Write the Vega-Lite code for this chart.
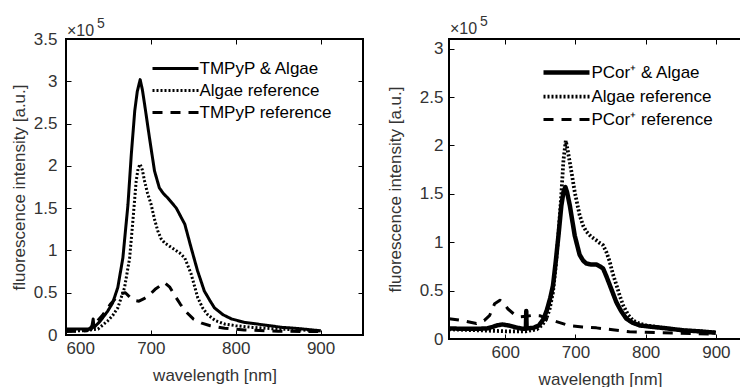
{
  "$schema": "https://vega.github.io/schema/vega-lite/v6.json",
  "padding": {"left": 9, "top": 14, "right": 0, "bottom": 0},
  "bounds": "flush",
  "spacing": 86,
  "background": "white",
  "resolve": {"scale": {"strokeDash": "independent", "strokeWidth": "independent"}, "legend": {"strokeDash": "independent", "strokeWidth": "independent"}},
  "datasets": {
    "left": [
      {"s": "TMPyP & Algae", "x": 600, "y": 0.07}, {"s": "TMPyP & Algae", "x": 615, "y": 0.07}, {"s": "TMPyP & Algae", "x": 630, "y": 0.07}, {"s": "TMPyP & Algae", "x": 632, "y": 0.19}, {"s": "TMPyP & Algae", "x": 633, "y": 0.09}, {"s": "TMPyP & Algae", "x": 640, "y": 0.16}, {"s": "TMPyP & Algae", "x": 649, "y": 0.28}, {"s": "TMPyP & Algae", "x": 655, "y": 0.38}, {"s": "TMPyP & Algae", "x": 661, "y": 0.56}, {"s": "TMPyP & Algae", "x": 667, "y": 0.91}, {"s": "TMPyP & Algae", "x": 673, "y": 1.54}, {"s": "TMPyP & Algae", "x": 677, "y": 2.14}, {"s": "TMPyP & Algae", "x": 681, "y": 2.65}, {"s": "TMPyP & Algae", "x": 684, "y": 2.88}, {"s": "TMPyP & Algae", "x": 687.4, "y": 3.02}, {"s": "TMPyP & Algae", "x": 690, "y": 2.9}, {"s": "TMPyP & Algae", "x": 692.6, "y": 2.73}, {"s": "TMPyP & Algae", "x": 698.4, "y": 2.33}, {"s": "TMPyP & Algae", "x": 704.3, "y": 1.94}, {"s": "TMPyP & Algae", "x": 710, "y": 1.74}, {"s": "TMPyP & Algae", "x": 715, "y": 1.67}, {"s": "TMPyP & Algae", "x": 720, "y": 1.62}, {"s": "TMPyP & Algae", "x": 730, "y": 1.5}, {"s": "TMPyP & Algae", "x": 740, "y": 1.31}, {"s": "TMPyP & Algae", "x": 747.5, "y": 1.03}, {"s": "TMPyP & Algae", "x": 755, "y": 0.76}, {"s": "TMPyP & Algae", "x": 763, "y": 0.52}, {"s": "TMPyP & Algae", "x": 770, "y": 0.4}, {"s": "TMPyP & Algae", "x": 775, "y": 0.32}, {"s": "TMPyP & Algae", "x": 785, "y": 0.24}, {"s": "TMPyP & Algae", "x": 795, "y": 0.19}, {"s": "TMPyP & Algae", "x": 810, "y": 0.15}, {"s": "TMPyP & Algae", "x": 825, "y": 0.13}, {"s": "TMPyP & Algae", "x": 840, "y": 0.11}, {"s": "TMPyP & Algae", "x": 855, "y": 0.09}, {"s": "TMPyP & Algae", "x": 870, "y": 0.08}, {"s": "TMPyP & Algae", "x": 885, "y": 0.065}, {"s": "TMPyP & Algae", "x": 900, "y": 0.05},
      {"s": "Algae reference", "x": 600, "y": 0.05}, {"s": "Algae reference", "x": 620, "y": 0.05}, {"s": "Algae reference", "x": 637.6, "y": 0.07}, {"s": "Algae reference", "x": 649, "y": 0.165}, {"s": "Algae reference", "x": 655, "y": 0.23}, {"s": "Algae reference", "x": 661, "y": 0.32}, {"s": "Algae reference", "x": 669, "y": 0.56}, {"s": "Algae reference", "x": 675, "y": 0.91}, {"s": "Algae reference", "x": 678.8, "y": 1.35}, {"s": "Algae reference", "x": 682.7, "y": 1.82}, {"s": "Algae reference", "x": 685, "y": 1.97}, {"s": "Algae reference", "x": 687.4, "y": 2.02}, {"s": "Algae reference", "x": 690, "y": 1.95}, {"s": "Algae reference", "x": 692.6, "y": 1.82}, {"s": "Algae reference", "x": 696, "y": 1.68}, {"s": "Algae reference", "x": 700.4, "y": 1.54}, {"s": "Algae reference", "x": 704, "y": 1.38}, {"s": "Algae reference", "x": 708.2, "y": 1.23}, {"s": "Algae reference", "x": 712, "y": 1.14}, {"s": "Algae reference", "x": 716, "y": 1.09}, {"s": "Algae reference", "x": 722, "y": 1.05}, {"s": "Algae reference", "x": 728, "y": 1.01}, {"s": "Algae reference", "x": 734, "y": 0.97}, {"s": "Algae reference", "x": 740, "y": 0.91}, {"s": "Algae reference", "x": 747.5, "y": 0.72}, {"s": "Algae reference", "x": 755.3, "y": 0.44}, {"s": "Algae reference", "x": 761, "y": 0.32}, {"s": "Algae reference", "x": 767, "y": 0.24}, {"s": "Algae reference", "x": 776, "y": 0.17}, {"s": "Algae reference", "x": 787, "y": 0.13}, {"s": "Algae reference", "x": 800, "y": 0.11}, {"s": "Algae reference", "x": 820, "y": 0.09}, {"s": "Algae reference", "x": 850, "y": 0.07}, {"s": "Algae reference", "x": 875, "y": 0.06}, {"s": "Algae reference", "x": 900, "y": 0.05},
      {"s": "TMPyP reference", "x": 600, "y": 0.04}, {"s": "TMPyP reference", "x": 625, "y": 0.05}, {"s": "TMPyP reference", "x": 635.6, "y": 0.15}, {"s": "TMPyP reference", "x": 643.5, "y": 0.24}, {"s": "TMPyP reference", "x": 652, "y": 0.36}, {"s": "TMPyP reference", "x": 659, "y": 0.44}, {"s": "TMPyP reference", "x": 665, "y": 0.49}, {"s": "TMPyP reference", "x": 670, "y": 0.5}, {"s": "TMPyP reference", "x": 675, "y": 0.45}, {"s": "TMPyP reference", "x": 680, "y": 0.41}, {"s": "TMPyP reference", "x": 686, "y": 0.4}, {"s": "TMPyP reference", "x": 692, "y": 0.43}, {"s": "TMPyP reference", "x": 698, "y": 0.47}, {"s": "TMPyP reference", "x": 705, "y": 0.54}, {"s": "TMPyP reference", "x": 712, "y": 0.59}, {"s": "TMPyP reference", "x": 716, "y": 0.62}, {"s": "TMPyP reference", "x": 722, "y": 0.57}, {"s": "TMPyP reference", "x": 728, "y": 0.47}, {"s": "TMPyP reference", "x": 735, "y": 0.36}, {"s": "TMPyP reference", "x": 742, "y": 0.27}, {"s": "TMPyP reference", "x": 750, "y": 0.19}, {"s": "TMPyP reference", "x": 760, "y": 0.14}, {"s": "TMPyP reference", "x": 770, "y": 0.11}, {"s": "TMPyP reference", "x": 787, "y": 0.08}, {"s": "TMPyP reference", "x": 810, "y": 0.06}, {"s": "TMPyP reference", "x": 850, "y": 0.045}, {"s": "TMPyP reference", "x": 900, "y": 0.04}
    ],
    "right": [
      {"s": "PCor⁺ & Algae", "x": 520, "y": 0.11}, {"s": "PCor⁺ & Algae", "x": 540, "y": 0.105}, {"s": "PCor⁺ & Algae", "x": 560, "y": 0.105}, {"s": "PCor⁺ & Algae", "x": 575, "y": 0.11}, {"s": "PCor⁺ & Algae", "x": 582, "y": 0.125}, {"s": "PCor⁺ & Algae", "x": 588, "y": 0.14}, {"s": "PCor⁺ & Algae", "x": 596, "y": 0.15}, {"s": "PCor⁺ & Algae", "x": 605, "y": 0.14}, {"s": "PCor⁺ & Algae", "x": 615, "y": 0.12}, {"s": "PCor⁺ & Algae", "x": 625, "y": 0.105}, {"s": "PCor⁺ & Algae", "x": 629.5, "y": 0.105}, {"s": "PCor⁺ & Algae", "x": 630, "y": 0.29}, {"s": "PCor⁺ & Algae", "x": 630.5, "y": 0.11}, {"s": "PCor⁺ & Algae", "x": 640, "y": 0.115}, {"s": "PCor⁺ & Algae", "x": 648, "y": 0.14}, {"s": "PCor⁺ & Algae", "x": 654, "y": 0.2}, {"s": "PCor⁺ & Algae", "x": 659, "y": 0.29}, {"s": "PCor⁺ & Algae", "x": 664, "y": 0.42}, {"s": "PCor⁺ & Algae", "x": 668, "y": 0.55}, {"s": "PCor⁺ & Algae", "x": 672, "y": 0.8}, {"s": "PCor⁺ & Algae", "x": 676, "y": 1.08}, {"s": "PCor⁺ & Algae", "x": 680, "y": 1.38}, {"s": "PCor⁺ & Algae", "x": 683, "y": 1.52}, {"s": "PCor⁺ & Algae", "x": 685.7, "y": 1.57}, {"s": "PCor⁺ & Algae", "x": 688, "y": 1.52}, {"s": "PCor⁺ & Algae", "x": 692, "y": 1.38}, {"s": "PCor⁺ & Algae", "x": 699, "y": 1.07}, {"s": "PCor⁺ & Algae", "x": 706, "y": 0.87}, {"s": "PCor⁺ & Algae", "x": 711, "y": 0.81}, {"s": "PCor⁺ & Algae", "x": 715.6, "y": 0.78}, {"s": "PCor⁺ & Algae", "x": 722, "y": 0.77}, {"s": "PCor⁺ & Algae", "x": 729.8, "y": 0.77}, {"s": "PCor⁺ & Algae", "x": 735, "y": 0.75}, {"s": "PCor⁺ & Algae", "x": 739.3, "y": 0.73}, {"s": "PCor⁺ & Algae", "x": 744, "y": 0.65}, {"s": "PCor⁺ & Algae", "x": 748.8, "y": 0.56}, {"s": "PCor⁺ & Algae", "x": 758.3, "y": 0.38}, {"s": "PCor⁺ & Algae", "x": 765, "y": 0.29}, {"s": "PCor⁺ & Algae", "x": 772.5, "y": 0.21}, {"s": "PCor⁺ & Algae", "x": 781, "y": 0.17}, {"s": "PCor⁺ & Algae", "x": 791.5, "y": 0.14}, {"s": "PCor⁺ & Algae", "x": 810, "y": 0.125}, {"s": "PCor⁺ & Algae", "x": 830, "y": 0.11}, {"s": "PCor⁺ & Algae", "x": 853, "y": 0.09}, {"s": "PCor⁺ & Algae", "x": 875, "y": 0.08}, {"s": "PCor⁺ & Algae", "x": 900, "y": 0.065},
      {"s": "Algae reference", "x": 520, "y": 0.1}, {"s": "Algae reference", "x": 560, "y": 0.09}, {"s": "Algae reference", "x": 600, "y": 0.08}, {"s": "Algae reference", "x": 630, "y": 0.08}, {"s": "Algae reference", "x": 645, "y": 0.1}, {"s": "Algae reference", "x": 652, "y": 0.14}, {"s": "Algae reference", "x": 658, "y": 0.2}, {"s": "Algae reference", "x": 663, "y": 0.3}, {"s": "Algae reference", "x": 668, "y": 0.48}, {"s": "Algae reference", "x": 672, "y": 0.75}, {"s": "Algae reference", "x": 676, "y": 1.1}, {"s": "Algae reference", "x": 680, "y": 1.5}, {"s": "Algae reference", "x": 683, "y": 1.85}, {"s": "Algae reference", "x": 686.3, "y": 2.05}, {"s": "Algae reference", "x": 689, "y": 1.95}, {"s": "Algae reference", "x": 694.3, "y": 1.73}, {"s": "Algae reference", "x": 699, "y": 1.52}, {"s": "Algae reference", "x": 706, "y": 1.28}, {"s": "Algae reference", "x": 711, "y": 1.17}, {"s": "Algae reference", "x": 715.6, "y": 1.11}, {"s": "Algae reference", "x": 722, "y": 1.06}, {"s": "Algae reference", "x": 729.8, "y": 1.02}, {"s": "Algae reference", "x": 735, "y": 0.99}, {"s": "Algae reference", "x": 739.3, "y": 0.97}, {"s": "Algae reference", "x": 744, "y": 0.9}, {"s": "Algae reference", "x": 748.8, "y": 0.8}, {"s": "Algae reference", "x": 753, "y": 0.68}, {"s": "Algae reference", "x": 758.3, "y": 0.56}, {"s": "Algae reference", "x": 763, "y": 0.45}, {"s": "Algae reference", "x": 767.8, "y": 0.35}, {"s": "Algae reference", "x": 775, "y": 0.25}, {"s": "Algae reference", "x": 782, "y": 0.19}, {"s": "Algae reference", "x": 791, "y": 0.16}, {"s": "Algae reference", "x": 801, "y": 0.14}, {"s": "Algae reference", "x": 820, "y": 0.12}, {"s": "Algae reference", "x": 850, "y": 0.09}, {"s": "Algae reference", "x": 875, "y": 0.08}, {"s": "Algae reference", "x": 900, "y": 0.065},
      {"s": "PCor⁺ reference", "x": 520, "y": 0.21}, {"s": "PCor⁺ reference", "x": 540, "y": 0.19}, {"s": "PCor⁺ reference", "x": 559, "y": 0.16}, {"s": "PCor⁺ reference", "x": 570, "y": 0.19}, {"s": "PCor⁺ reference", "x": 578, "y": 0.245}, {"s": "PCor⁺ reference", "x": 585, "y": 0.365}, {"s": "PCor⁺ reference", "x": 592.5, "y": 0.4}, {"s": "PCor⁺ reference", "x": 598, "y": 0.37}, {"s": "PCor⁺ reference", "x": 604, "y": 0.31}, {"s": "PCor⁺ reference", "x": 612, "y": 0.26}, {"s": "PCor⁺ reference", "x": 621, "y": 0.23}, {"s": "PCor⁺ reference", "x": 630, "y": 0.235}, {"s": "PCor⁺ reference", "x": 640, "y": 0.245}, {"s": "PCor⁺ reference", "x": 650, "y": 0.24}, {"s": "PCor⁺ reference", "x": 660, "y": 0.21}, {"s": "PCor⁺ reference", "x": 673, "y": 0.18}, {"s": "PCor⁺ reference", "x": 690, "y": 0.14}, {"s": "PCor⁺ reference", "x": 710, "y": 0.125}, {"s": "PCor⁺ reference", "x": 730, "y": 0.115}, {"s": "PCor⁺ reference", "x": 753, "y": 0.095}, {"s": "PCor⁺ reference", "x": 777, "y": 0.075}, {"s": "PCor⁺ reference", "x": 800, "y": 0.07}, {"s": "PCor⁺ reference", "x": 850, "y": 0.06}, {"s": "PCor⁺ reference", "x": 900, "y": 0.05}
    ],
    "mult": [{"t": "×10", "e": "5"}]
  },
  "hconcat": [
    {
      "width": 297,
      "height": 296,
      "layer": [
        {
          "data": {"name": "left"},
          "mark": {"type": "line", "strokeWidth": 3, "color": "black", "strokeJoin": "round"},
          "encoding": {
            "x": {"field": "x", "type": "quantitative", "scale": {"domain": [600, 950], "nice": false, "zero": false},
                  "axis": {"values": [600, 700, 800, 900], "title": "wavelength  [nm]", "labelPadding": 10, "titlePadding": 11}},
            "y": {"field": "y", "type": "quantitative", "scale": {"domain": [0, 3.5], "nice": false},
                  "axis": {"values": [0, 0.5, 1, 1.5, 2, 2.5, 3, 3.5], "format": "~g", "title": "fluorescence intensity  [a.u.]", "labelPadding": 14, "titlePadding": 5}},
            "strokeDash": {"field": "s", "type": "nominal",
                  "scale": {"domain": ["TMPyP & Algae", "Algae reference", "TMPyP reference"], "range": [[1, 0], [2, 2], [10, 8]]},
                  "legend": {"title": null, "orient": "none", "legendX": 96.5, "legendY": 16.5, "symbolType": "M-2,0H2", "symbolSize": 529, "symbolStrokeWidth": 3, "symbolStrokeColor": "black", "labelFontSize": 17, "labelColor": "black", "labelOffset": 11, "rowPadding": 1, "padding": 0}}
          }
        },
        {
          "data": {"name": "left"},
          "mark": {"type": "line", "opacity": 0},
          "encoding": {
            "x": {"field": "x", "type": "quantitative", "axis": {"orient": "top", "values": [600, 700, 800, 900], "labels": false, "title": null}},
            "y": {"field": "y", "type": "quantitative", "axis": {"orient": "right", "values": [0, 0.5, 1, 1.5, 2, 2.5, 3, 3.5], "labels": false, "title": null}}
          }
        },
        {
          "data": {"name": "mult"},
          "mark": {"type": "text", "align": "left", "baseline": "alphabetic", "dx": 1, "dy": -3, "fontSize": 16, "color": "#333"},
          "encoding": {"text": {"field": "t"}, "x": {"datum": 600, "type": "quantitative", "axis": null}, "y": {"datum": 3.5, "type": "quantitative", "axis": null}}
        },
        {
          "data": {"name": "mult"},
          "mark": {"type": "text", "align": "left", "baseline": "alphabetic", "dx": 31, "dy": -11, "fontSize": 14, "color": "#333"},
          "encoding": {"text": {"field": "e"}, "x": {"datum": 600, "type": "quantitative", "axis": null}, "y": {"datum": 3.5, "type": "quantitative", "axis": null}}
        }
      ],
      "resolve": {"axis": {"x": "independent", "y": "independent"}}
    },
    {
      "width": 302,
      "height": 300,
      "layer": [
        {
          "data": {"name": "right"},
          "mark": {"type": "line", "color": "black", "strokeJoin": "round"},
          "encoding": {
            "x": {"field": "x", "type": "quantitative", "scale": {"domain": [520, 950], "nice": false, "zero": false},
                  "axis": {"values": [600, 700, 800, 900], "title": "wavelength  [nm]", "labelPadding": 10, "titlePadding": 11}},
            "y": {"field": "y", "type": "quantitative", "scale": {"domain": [0, 3.1], "nice": false},
                  "axis": {"values": [0, 0.5, 1, 1.5, 2, 2.5, 3], "format": "~g", "title": "fluorescence intensity  [a.u.]", "titlePadding": 15}},
            "strokeDash": {"field": "s", "type": "nominal",
                  "scale": {"domain": ["PCor⁺ & Algae", "Algae reference", "PCor⁺ reference"], "range": [[1, 0], [2, 2], [10, 8]]},
                  "legend": {"title": null, "orient": "none", "legendX": 103.5, "legendY": 19.5, "symbolType": "M-2,0H2", "symbolSize": 529, "symbolStrokeColor": "black", "labelFontSize": 17, "labelColor": "black", "labelOffset": 11, "rowPadding": 1.5, "padding": 0}},
            "strokeWidth": {"field": "s", "type": "ordinal",
                  "scale": {"domain": ["PCor⁺ & Algae", "Algae reference", "PCor⁺ reference"], "range": [4.5, 3, 3]},
                  "legend": {"title": null, "orient": "none", "legendX": 103.5, "legendY": 19.5, "symbolType": "M-2,0H2", "symbolSize": 529, "symbolStrokeColor": "black", "labelFontSize": 17, "labelColor": "black", "labelOffset": 11, "rowPadding": 1.5, "padding": 0}}
          }
        },
        {
          "data": {"name": "right"},
          "mark": {"type": "line", "opacity": 0},
          "encoding": {
            "x": {"field": "x", "type": "quantitative", "axis": {"orient": "top", "values": [600, 700, 800, 900], "labels": false, "title": null}},
            "y": {"field": "y", "type": "quantitative", "axis": {"orient": "right", "values": [0, 0.5, 1, 1.5, 2, 2.5, 3], "labels": false, "title": null}}
          }
        },
        {
          "data": {"name": "mult"},
          "mark": {"type": "text", "align": "left", "baseline": "alphabetic", "dx": 1, "dy": -5, "fontSize": 16, "color": "#333"},
          "encoding": {"text": {"field": "t"}, "x": {"datum": 520, "type": "quantitative", "axis": null}, "y": {"datum": 3.1, "type": "quantitative", "axis": null}}
        },
        {
          "data": {"name": "mult"},
          "mark": {"type": "text", "align": "left", "baseline": "alphabetic", "dx": 31, "dy": -13, "fontSize": 14, "color": "#333"},
          "encoding": {"text": {"field": "e"}, "x": {"datum": 520, "type": "quantitative", "axis": null}, "y": {"datum": 3.1, "type": "quantitative", "axis": null}}
        }
      ],
      "resolve": {"axis": {"x": "independent", "y": "independent"}}
    }
  ],
  "config": {
    "font": "Liberation Sans",
    "view": {"stroke": "black", "strokeWidth": 2},
    "axis": {"domain": false, "grid": false, "ticks": true, "tickSize": -5, "tickColor": "black", "tickWidth": 1, "labelFontSize": 17, "labelColor": "#333", "labelPadding": 11, "titleFontSize": 17, "titleFontWeight": "normal", "titleColor": "#333"},
    "text": {"font": "Liberation Sans"}
  }
}
